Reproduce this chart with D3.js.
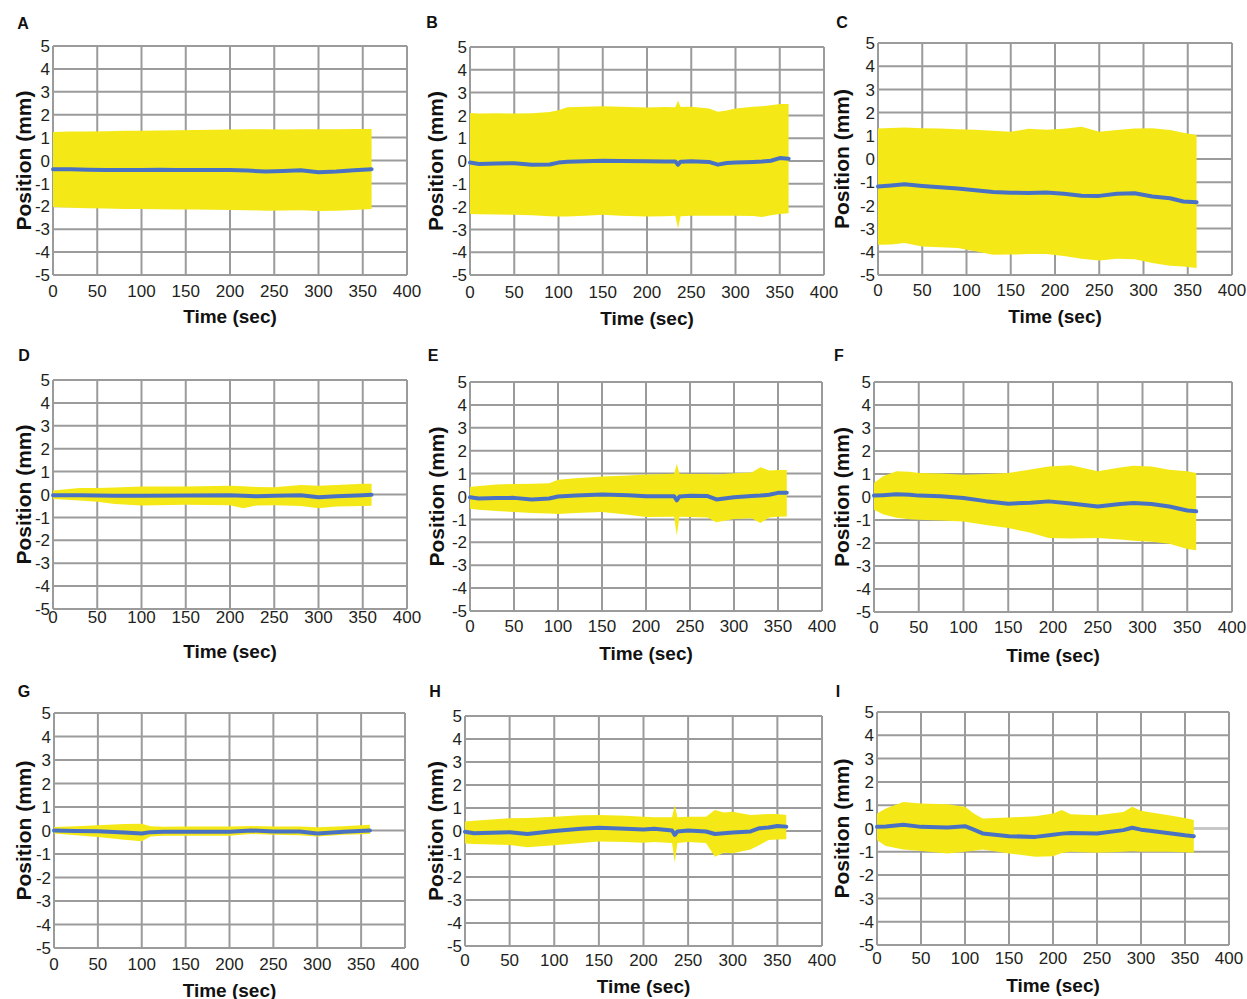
<!DOCTYPE html>
<html>
<head>
<meta charset="utf-8">
<script src="https://cdn.jsdelivr.net/npm/d3@7"></script>
<style>
  body { margin: 0; background: #fff; }
  svg { display: block; font-family: "Liberation Sans", Arial, sans-serif; }
</style>
</head>
<body>
<div id="figure"></div>
<script>
var posviz = posviz || {'version':0.1, 'viz': {} };

// tick labels
var xTicks = [0, 50, 100, 150, 200, 250, 300, 350, 400];
var yTicks = [5, 4, 3, 2, 1, 0, -1, -2, -3, -4, -5];
var panelLetters = ["A", "B", "C", "D", "E", "F", "G", "H", "I"];

// rows: [time (sec), lower (mean - SD), mean, upper (mean + SD)]
var seriesA = [
  [0, -2.03, -0.38, 1.25], [20, -2.06, -0.38, 1.27], [40, -2.08, -0.40, 1.27],
  [60, -2.10, -0.41, 1.28], [80, -2.12, -0.42, 1.30], [100, -2.12, -0.42, 1.30],
  [120, -2.13, -0.40, 1.31], [140, -2.14, -0.41, 1.32], [160, -2.14, -0.42, 1.33],
  [180, -2.15, -0.41, 1.34], [200, -2.16, -0.42, 1.35], [220, -2.17, -0.44, 1.36],
  [240, -2.19, -0.48, 1.36], [260, -2.18, -0.46, 1.35], [280, -2.17, -0.43, 1.36],
  [300, -2.20, -0.51, 1.37], [320, -2.19, -0.48, 1.37], [340, -2.16, -0.43, 1.38],
  [360, -2.12, -0.38, 1.38]
];
var seriesB = [
  [0, -2.33, -0.07, 2.11], [10, -2.34, -0.13, 2.08], [30, -2.35, -0.11, 2.09],
  [50, -2.36, -0.10, 2.08], [70, -2.38, -0.16, 2.09], [90, -2.42, -0.15, 2.15],
  [100, -2.43, -0.07, 2.23], [110, -2.43, -0.03, 2.36], [130, -2.40, -0.01, 2.38],
  [150, -2.36, 0.01, 2.40], [170, -2.40, 0.00, 2.38], [200, -2.43, -0.01, 2.35],
  [220, -2.42, -0.02, 2.37], [232, -2.40, -0.02, 2.36], [235, -2.96, -0.16, 2.64],
  [238, -2.42, -0.03, 2.37], [250, -2.40, -0.01, 2.38], [270, -2.40, -0.04, 2.30],
  [280, -2.40, -0.16, 2.16], [290, -2.40, -0.09, 2.22], [300, -2.40, -0.07, 2.30],
  [320, -2.41, -0.04, 2.38], [330, -2.46, -0.02, 2.40], [340, -2.38, 0.01, 2.45],
  [350, -2.33, 0.13, 2.50], [360, -2.29, 0.10, 2.50]
];
var seriesC = [
  [0, -3.70, -1.19, 1.32], [15, -3.68, -1.14, 1.34], [30, -3.62, -1.09, 1.36],
  [50, -3.77, -1.16, 1.33], [70, -3.80, -1.22, 1.31], [90, -3.84, -1.27, 1.28],
  [110, -3.98, -1.35, 1.26], [130, -4.13, -1.42, 1.22], [150, -4.12, -1.45, 1.17],
  [170, -4.10, -1.47, 1.30], [190, -4.10, -1.44, 1.26], [210, -4.18, -1.50, 1.30],
  [230, -4.30, -1.58, 1.39], [250, -4.37, -1.59, 1.17], [270, -4.30, -1.50, 1.25],
  [290, -4.32, -1.48, 1.32], [310, -4.48, -1.62, 1.33], [330, -4.60, -1.69, 1.25],
  [345, -4.63, -1.83, 1.13], [360, -4.70, -1.86, 1.03]
];
var seriesD = [
  [0, -0.20, -0.03, 0.17], [30, -0.26, -0.03, 0.28], [50, -0.32, -0.04, 0.28],
  [70, -0.41, -0.06, 0.31], [100, -0.48, -0.06, 0.35], [150, -0.45, -0.04, 0.35],
  [200, -0.47, -0.03, 0.38], [215, -0.60, -0.05, 0.36], [230, -0.48, -0.08, 0.33],
  [250, -0.47, -0.05, 0.32], [280, -0.50, -0.03, 0.42], [300, -0.60, -0.12, 0.38],
  [320, -0.52, -0.08, 0.42], [350, -0.50, -0.03, 0.47], [360, -0.49, -0.01, 0.47]
];
var seriesE = [
  [0, -0.54, -0.03, 0.41], [10, -0.58, -0.09, 0.46], [30, -0.63, -0.07, 0.52],
  [50, -0.68, -0.06, 0.55], [70, -0.72, -0.13, 0.56], [90, -0.74, -0.09, 0.58],
  [100, -0.76, 0.00, 0.73], [120, -0.72, 0.04, 0.80], [150, -0.68, 0.09, 0.87],
  [180, -0.80, 0.05, 0.92], [200, -0.90, 0.01, 0.96], [232, -0.88, 0.01, 0.99],
  [235, -1.70, -0.17, 1.43], [238, -0.88, 0.00, 0.99], [250, -0.90, 0.03, 0.98],
  [270, -0.92, 0.02, 0.98], [280, -1.12, -0.13, 0.96], [300, -0.98, -0.03, 1.02],
  [320, -0.95, 0.02, 1.05], [330, -1.16, 0.04, 1.28], [340, -0.92, 0.08, 1.14],
  [350, -0.88, 0.16, 1.16], [360, -0.87, 0.16, 1.16]
];
var seriesF = [
  [0, -0.55, 0.06, 0.61], [10, -0.75, 0.08, 0.90], [25, -0.90, 0.12, 1.12],
  [40, -0.97, 0.10, 1.10], [50, -0.99, 0.06, 1.04], [75, -1.02, 0.03, 1.02],
  [100, -1.06, -0.04, 0.97], [125, -1.22, -0.18, 1.00], [150, -1.35, -0.29, 1.04],
  [175, -1.55, -0.25, 1.20], [195, -1.78, -0.19, 1.33], [220, -1.80, -0.28, 1.38],
  [250, -1.78, -0.41, 1.12], [275, -1.85, -0.30, 1.28], [290, -1.90, -0.26, 1.36],
  [310, -1.95, -0.30, 1.33], [330, -2.03, -0.41, 1.19], [350, -2.26, -0.59, 1.12],
  [360, -2.32, -0.62, 1.04]
];
var seriesG = [
  [0, -0.13, 0.00, 0.15], [25, -0.20, -0.02, 0.18], [50, -0.28, -0.03, 0.22],
  [80, -0.39, -0.08, 0.28], [100, -0.46, -0.13, 0.29], [110, -0.25, -0.07, 0.18],
  [125, -0.22, -0.05, 0.16], [150, -0.22, -0.05, 0.17], [200, -0.22, -0.05, 0.17],
  [225, -0.15, 0.00, 0.19], [250, -0.18, -0.04, 0.17], [280, -0.20, -0.04, 0.17],
  [300, -0.25, -0.13, 0.14], [330, -0.18, -0.05, 0.18], [360, -0.15, 0.00, 0.25]
];
var seriesH = [
  [0, -0.54, -0.03, 0.41], [10, -0.56, -0.10, 0.45], [50, -0.61, -0.05, 0.55],
  [70, -0.71, -0.13, 0.57], [100, -0.62, 0.00, 0.62], [130, -0.52, 0.10, 0.68],
  [150, -0.46, 0.14, 0.70], [180, -0.48, 0.10, 0.66], [200, -0.51, 0.07, 0.62],
  [212, -0.48, 0.10, 0.60], [232, -0.52, 0.02, 0.60], [235, -1.38, -0.17, 1.13],
  [238, -0.52, -0.02, 0.60], [250, -0.48, 0.02, 0.62], [270, -0.52, -0.02, 0.62],
  [280, -1.12, -0.13, 0.91], [290, -0.95, -0.10, 0.80], [300, -0.97, -0.07, 0.84],
  [320, -0.80, -0.02, 0.70], [330, -0.61, 0.12, 0.72], [340, -0.39, 0.15, 0.74],
  [350, -0.37, 0.22, 0.74], [360, -0.36, 0.19, 0.70]
];
var seriesI = [
  [0, -0.50, 0.07, 0.64], [10, -0.75, 0.09, 0.86], [30, -0.90, 0.16, 1.14],
  [50, -0.97, 0.07, 1.07], [80, -1.07, 0.04, 1.04], [100, -1.00, 0.10, 0.93],
  [110, -0.95, -0.05, 0.64], [120, -0.90, -0.21, 0.43], [150, -1.07, -0.33, 0.47],
  [180, -1.21, -0.36, 0.53], [200, -1.19, -0.27, 0.64], [210, -1.05, -0.22, 0.79],
  [220, -1.00, -0.19, 0.61], [250, -1.04, -0.21, 0.57], [280, -1.00, -0.07, 0.71],
  [290, -0.98, 0.03, 0.93], [300, -1.00, -0.05, 0.76], [310, -1.00, -0.10, 0.70],
  [330, -1.00, -0.19, 0.58], [350, -1.02, -0.29, 0.45], [360, -1.04, -0.33, 0.36]
];

var allSeries = [seriesA, seriesB, seriesC, seriesD, seriesE, seriesF, seriesG, seriesH, seriesI];

// layout: plot box [left, top, right, bottom], letter position, label offsets
var boxes = [
  [53, 46, 407, 275], [470, 47, 824, 275], [878, 43, 1232, 275],
  [53, 380, 407, 609], [470, 382, 822, 611], [874, 382, 1232, 612],
  [54, 713, 405, 948], [465, 716, 822, 946], [877, 712, 1229, 945]
];
var letterPos = [[23, 23], [432, 22], [842, 22], [24, 355], [433, 355], [839, 355], [24, 691], [435, 691], [838, 691]];
var xLabelDy = [22, 23, 21, 14, 21, 21, 22, 20, 19];
var xTitleDy = [48, 50, 48, 49, 49, 50, 49, 47, 47];
var yTitleDx = [30, 35, 37, 30, 34, 33, 31, 30, 36];

var svg = d3.select("#figure").append("svg")
    .attr("width", 1247)
    .attr("height", 999);

posviz.viz.panel = function(options)
{
    var self = {};
    for (var key in options){
        self[key] = options[key];
    }

    self.init = function(){
        var b = self.box;
        self.x = d3.scaleLinear().domain([0, 400]).range([b[0], b[2]]);
        self.y = d3.scaleLinear().domain([-5, 5]).range([b[3], b[1]]);
        self.g = self.svg.append("g").attr("class", "panel");
    };

    self.render = function(){
        var b = self.box, x = self.x, y = self.y, g = self.g;

        // grid (drawn under the band)
        var grid = g.append("g").attr("class", "grid");
        grid.selectAll("line.v").data(xTicks).enter().append("line")
            .attr("x1", d => x(d)).attr("x2", d => x(d))
            .attr("y1", b[1]).attr("y2", b[3])
            .attr("stroke", "#9b9b9b").attr("stroke-width", 2);
        grid.selectAll("line.h").data(yTicks).enter().append("line")
            .attr("x1", b[0]).attr("x2", b[2])
            .attr("y1", d => y(d)).attr("y2", d => y(d))
            .attr("stroke", "#9b9b9b").attr("stroke-width", 2);

        // the zero line past the end of the data is paler in panel I
        if (self.paleZero){
            var last = self.data[self.data.length - 1][0];
            grid.append("line")
                .attr("x1", x(last)).attr("x2", x(400) - 1)
                .attr("y1", y(0)).attr("y2", y(0))
                .attr("stroke", "#c6c6c6").attr("stroke-width", 2);
        }

        // SD band
        var band = d3.area()
            .x(d => x(d[0]))
            .y0(d => y(d[1]))
            .y1(d => y(d[3]));
        g.append("path").datum(self.data)
            .attr("d", band)
            .attr("fill", "#f4e917");

        // mean trace
        var mean = d3.line()
            .x(d => x(d[0]))
            .y(d => y(d[2]));
        g.append("path").datum(self.data)
            .attr("d", mean)
            .attr("fill", "none")
            .attr("stroke", "#4a72c4")
            .attr("stroke-width", 4)
            .attr("stroke-linejoin", "round")
            .attr("stroke-linecap", "round");

        // tick labels
        g.selectAll("text.xt").data(xTicks).enter().append("text")
            .attr("x", d => x(d))
            .attr("y", b[3] + self.xLabelDy)
            .attr("text-anchor", "middle")
            .attr("font-size", 17)
            .attr("fill", "#231f20")
            .text(d => d);
        g.selectAll("text.yt").data(yTicks).enter().append("text")
            .attr("x", b[0] - 3)
            .attr("y", d => y(d))
            .attr("dy", "0.36em")
            .attr("text-anchor", "end")
            .attr("font-size", 17)
            .attr("fill", "#231f20")
            .text(d => d);

        // axis titles
        g.append("text")
            .attr("x", (b[0] + b[2]) / 2)
            .attr("y", b[3] + self.xTitleDy)
            .attr("text-anchor", "middle")
            .attr("font-size", 19)
            .attr("font-weight", "bold")
            .attr("fill", "#111")
            .text("Time (sec)");
        var cy = (b[1] + b[3]) / 2;
        var cx = b[0] - self.yTitleDx;
        g.append("text")
            .attr("transform", "translate(" + cx + "," + cy + ") rotate(-90)")
            .attr("dy", "0.36em")
            .attr("text-anchor", "middle")
            .attr("font-size", 21)
            .attr("font-weight", "bold")
            .attr("fill", "#111")
            .text("Position (mm)");

        // panel letter
        g.append("text")
            .attr("x", self.letterPos[0])
            .attr("y", self.letterPos[1])
            .attr("dy", "0.36em")
            .attr("text-anchor", "middle")
            .attr("font-size", 16)
            .attr("font-weight", "bold")
            .attr("fill", "#111")
            .text(self.letter);
    };

    self.init();
    return self;
};

panelLetters.forEach(function(letter, i){
    var p = posviz.viz.panel({
        svg: svg,
        letter: letter,
        data: allSeries[i],
        box: boxes[i],
        letterPos: letterPos[i],
        xLabelDy: xLabelDy[i],
        xTitleDy: xTitleDy[i],
        yTitleDx: yTitleDx[i],
        paleZero: letter === "I"
    });
    p.render();
});
</script>
</body>
</html>
